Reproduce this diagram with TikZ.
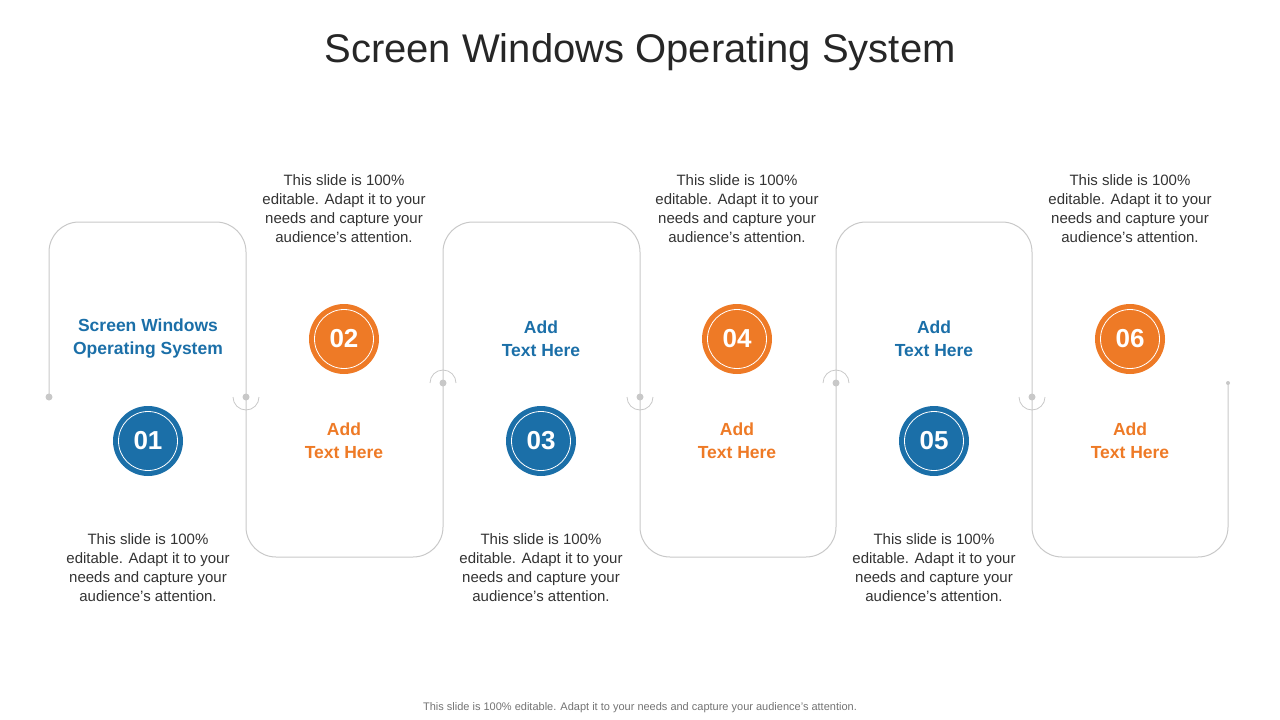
\documentclass[tikz,border=0pt]{standalone}
\usepackage{fontspec}
\setmainfont{Liberation Sans}
\definecolor{myblue}{HTML}{1B6FA8}
\definecolor{myorange}{HTML}{EE7A26}
\definecolor{lgray}{HTML}{C8C8C8}
\definecolor{txt}{HTML}{333333}
\begin{document}
\begin{tikzpicture}[x=1pt,y=-1pt,
  para/.style={align=center,font=\fontsize{15}{19}\selectfont,text=txt},
  lab/.style={align=center,font=\fontsize{17.5}{23}\selectfont\bfseries},
  num/.style={circle,minimum size=70pt,inner sep=0pt,text=white,font=\fontsize{26}{30}\selectfont\bfseries},
  ring/.style={circle,draw=white,line width=0.8pt,minimum size=59pt,inner sep=0pt},
  dot/.style={circle,fill=lgray,inner sep=0pt,minimum size=7pt}]
\useasboundingbox (0,0) rectangle (1280,720);
\node[font=\fontsize{40}{46}\selectfont,text=black!85] (title) at (640,52) {Screen Windows Operating System};
\draw[lgray,line width=1pt,rounded corners=30pt] (49,397)--(49,222)--(246,222)--(246,557)--(443,557)--(443,222)--(640,222)--(640,557)--(836,557)--(836,222)--(1032,222)--(1032,557)--(1228,557)--(1228,383);
\node[dot] (d0) at (49,397) {};
\foreach \x/\n in {246/a,640/b,1032/c}{
  \node[dot] (d\n) at (\x,397) {};
  \draw[lgray,line width=0.8pt] (\x-13,397) arc[start angle=180,end angle=360,radius=13pt];}
\foreach \x/\n in {443/p,836/q}{
  \node[dot] (d\n) at (\x,383) {};
  \draw[lgray,line width=0.8pt] (\x-13,383) arc[start angle=180,end angle=0,radius=13pt];}
\node[dot,minimum size=4pt] (dend) at (1228,383) {};
\foreach \x/\y/\t/\c in {148/441/01/myblue,344/339/02/myorange,541/441/03/myblue,737/339/04/myorange,934/441/05/myblue,1130/339/06/myorange}{
  \node[num,fill=\c] (n\t) at (\x,\y) {\t};
  \node[ring] at (\x,\y) {};}
\node[lab,text=myblue] (l1) at (148,339) {Screen Windows\\Operating System};
\node[lab,text=myblue] (l3) at (541,339) {Add\\Text Here};
\node[lab,text=myblue] (l5) at (934,339) {Add\\Text Here};
\node[lab,text=myorange] (l2) at (344,441) {Add\\Text Here};
\node[lab,text=myorange] (l4) at (737,441) {Add\\Text Here};
\node[lab,text=myorange] (l6) at (1130,441) {Add\\Text Here};
\foreach \x/\n in {344/a,737/b,1130/c}
  \node[para] (t\n) at (\x,209) {This slide is 100\%\\editable. Adapt it to your\\needs and capture your\\audience's attention.};
\foreach \x/\n in {148/a,541/b,934/c}
  \node[para] (b\n) at (\x,568) {This slide is 100\%\\editable. Adapt it to your\\needs and capture your\\audience's attention.};
\node[font=\fontsize{11}{13}\selectfont,text=black!55] (foot) at (640,708) {This slide is 100\% editable. Adapt it to your needs and capture your audience's attention.};
\end{tikzpicture}
\end{document}
